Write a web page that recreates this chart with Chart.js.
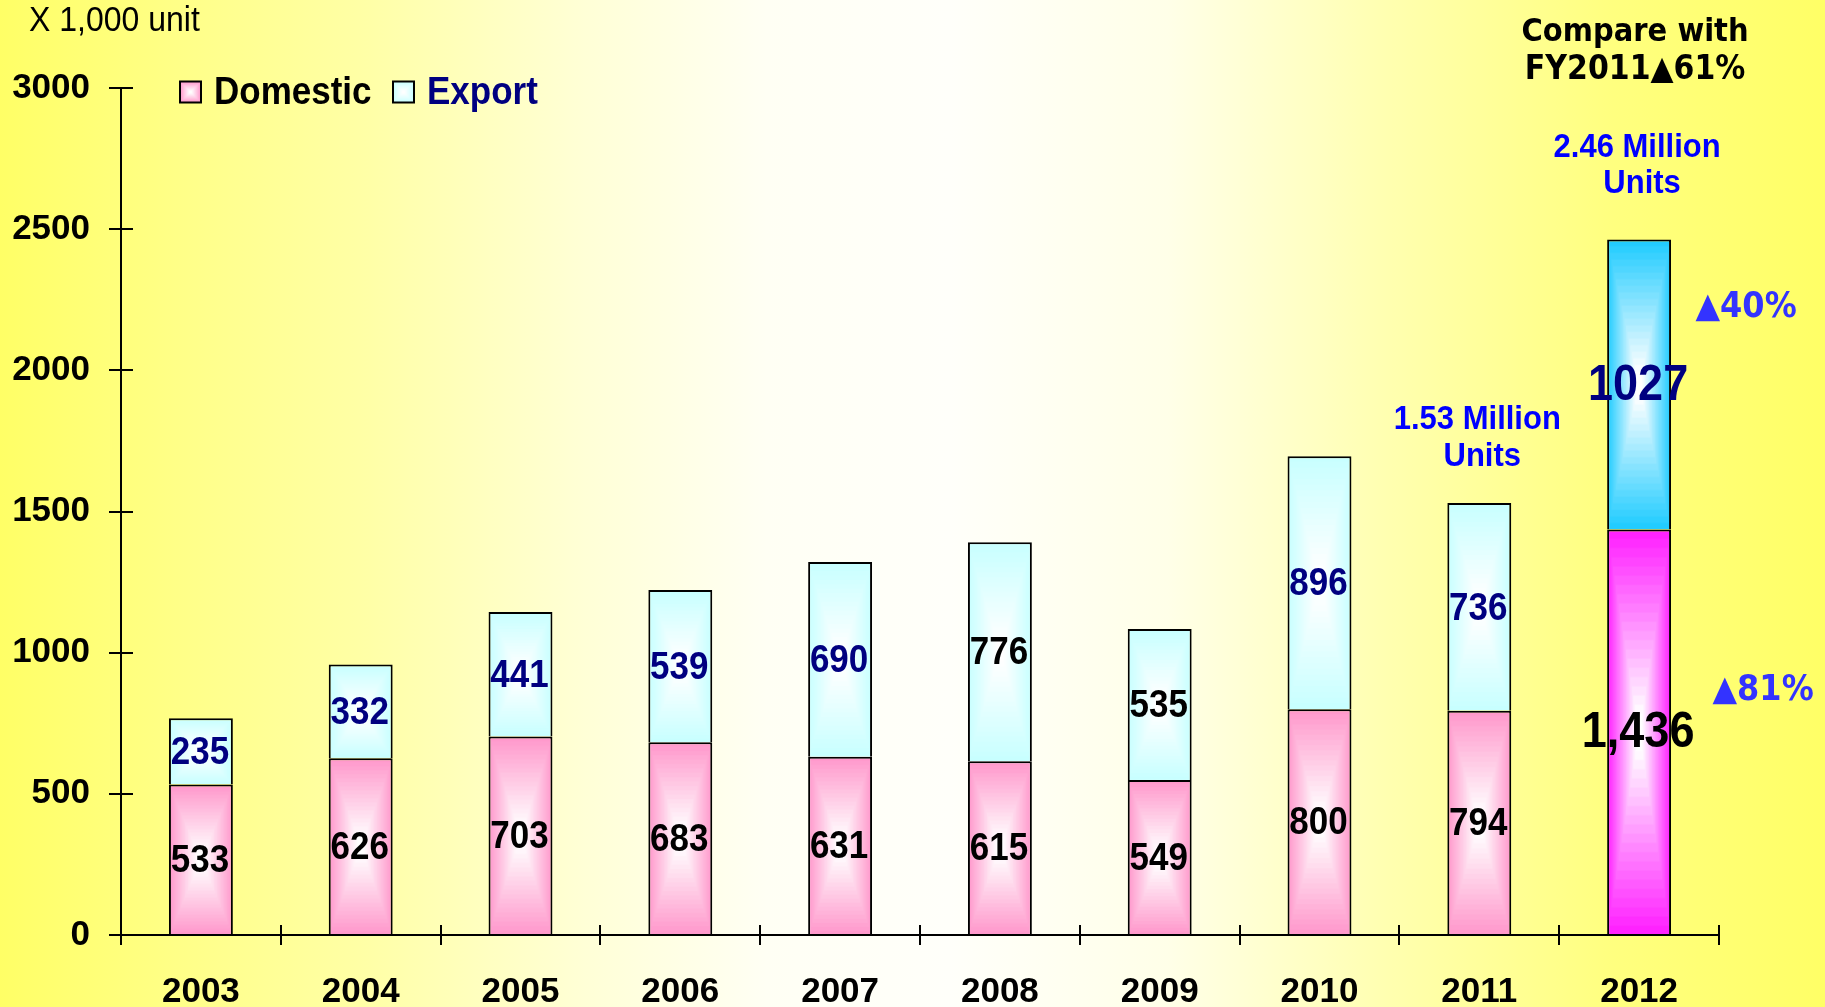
<!DOCTYPE html>
<html>
<head>
<meta charset="utf-8">
<script src="https://cdn.jsdelivr.net/npm/chart.js@4.4.1/dist/chart.umd.min.js"></script>
<style>
html,body{margin:0;padding:0;overflow:hidden;background:#ffffe0}
canvas{display:block}
</style>
</head>
<body>
<canvas id="c" width="1825" height="1007"></canvas>
<script>
// ---------- data ----------
const years = ['2003','2004','2005','2006','2007','2008','2009','2010','2011','2012'];
const seriesNames = ['Domestic', 'Export'];
const domestic = [533, 626, 703, 683, 631, 615, 549, 800, 794, 1436];
const exportUnits = [235, 332, 441, 539, 690, 776, 535, 896, 736, 1027];
const yTickValues = [0, 500, 1000, 1500, 2000, 2500, 3000];
const unitText = 'X 1,000 unit';
const compareLines = ['Compare with', 'FY2011\u25B261%'];
const totalNotes2012 = ['2.46 Million', 'Units'];
const totalNotes2011 = ['1.53 Million', 'Units'];
const changeNotes = ['\u25B240%', '\u25B281%'];      // export, domestic change vs FY2011
const changeNoteValues = [2221, 864];                // vertical anchor (units) for change notes
const total2011NoteValues = [1824, 1693];
const total2012NoteValues = [2788, 2660];
const compareNoteValues = [3196, 3062];

// ---------- styles ----------
const FONT = "'Liberation Sans', Arial, sans-serif";
const FONT_WIDE = "'DejaVu Sans', Verdana, sans-serif";
const EDGE = { domestic: '#ff99cc', exp: '#c8ffff', domesticHi: '#ff22ff', expHi: '#22ccff' };
const NAVY = '#000080';
const exportLabelColors = [NAVY, NAVY, NAVY, NAVY, NAVY, '#000000', '#000000', NAVY, NAVY, NAVY];
const BAR_FRACTION = 0.4;
const STRETCH = 1.1;

function hexToRgb(h){ h = h.replace('#',''); return [parseInt(h.substr(0,2),16), parseInt(h.substr(2,2),16), parseInt(h.substr(4,2),16)]; }
function mix(a, b, t){ const A = hexToRgb(a), B = hexToRgb(b); return 'rgb(' + A.map((v,k)=>Math.round(v + (B[k]-v)*t)).join(',') + ')'; }

function rectGradientCanvas(w, h, edge, center){
  const cv = document.createElement('canvas');
  cv.width = Math.max(1, Math.ceil(w)); cv.height = Math.max(1, Math.ceil(h));
  const g = cv.getContext('2d');
  const steps = 22;
  for (let s = 0; s < steps; s++){
    const t = s / steps;
    g.fillStyle = mix(edge, center, Math.min(1, t * 1.12));
    const ix = t * w / 2, iy = t * h / 2;
    g.fillRect(ix, iy, w - 2*ix, h - 2*iy);
  }
  return cv;
}

function tallText(ctx, text, x, y){
  ctx.save(); ctx.translate(x, y); ctx.scale(1, STRETCH); ctx.fillText(text, 0, 0); ctx.restore();
}

function barFill(normalEdge, highEdge){
  return function(c){
    const chart = c.chart, a = chart.chartArea;
    const i = c.dataIndex;
    const edge = (i === years.length - 1) ? highEdge : normalEdge;
    if (!a || c.type !== 'data') return edge;
    const xs = chart.scales.x, ys = chart.scales.y;
    const w = (a.right - a.left) / years.length * BAR_FRACTION;
    const cx = xs.getPixelForValue(i);
    let lo = 0;
    for (let d = 0; d < c.datasetIndex; d++) lo += chart.data.datasets[d].data[i];
    const hi = lo + chart.data.datasets[c.datasetIndex].data[i];
    const top = ys.getPixelForValue(hi), base = ys.getPixelForValue(lo);
    const left = cx - w/2;
    const cv = rectGradientCanvas(w, base - top, edge, '#ffffff');
    const pat = chart.ctx.createPattern(cv, 'no-repeat');
    pat.setTransform(new DOMMatrix([1,0,0,1,left,top]));
    return pat;
  };
}

// ---------- plugins ----------
const backgroundPlugin = {
  id: 'bg',
  beforeDraw(chart){
    const {ctx, width, height} = chart;
    const g = ctx.createLinearGradient(0, 0, width, 0);
    g.addColorStop(0.00, '#ffff66');
    g.addColorStop(0.10, '#ffff88');
    g.addColorStop(0.20, '#ffffa6');
    g.addColorStop(0.32, '#ffffd6');
    g.addColorStop(0.42, '#fffff4');
    g.addColorStop(0.52, '#fffffa');
    g.addColorStop(0.64, '#ffffe8');
    g.addColorStop(0.76, '#ffffb0');
    g.addColorStop(0.88, '#ffff80');
    g.addColorStop(1.00, '#ffff66');
    ctx.save(); ctx.fillStyle = g; ctx.fillRect(0, 0, width, height); ctx.restore();
  }
};

const crossTicksPlugin = {
  id: 'crossTicks',
  beforeDatasetsDraw(chart){
    const {ctx, chartArea: a, scales: {x, y}} = chart;
    ctx.save(); ctx.strokeStyle = '#000'; ctx.lineWidth = 2;
    y.ticks.forEach((t, i) => {
      const py = Math.round(y.getPixelForTick(i));
      ctx.beginPath(); ctx.moveTo(a.left, py); ctx.lineTo(a.left + 12, py); ctx.stroke();
    });
    const n = x.ticks.length;
    for (let i = 0; i <= n; i++){
      const px = Math.round(a.left + (a.right - a.left) * i / n);
      ctx.beginPath(); ctx.moveTo(px, a.bottom); ctx.lineTo(px, a.bottom - 10); ctx.stroke();
    }
    ctx.restore();
  }
};

const valueLabelsPlugin = {
  id: 'valueLabels',
  afterDatasetsDraw(chart){
    const ctx = chart.ctx;
    ctx.save(); ctx.textAlign = 'center'; ctx.textBaseline = 'middle';
    chart.data.datasets.forEach((ds, di) => {
      const meta = chart.getDatasetMeta(di);
      meta.data.forEach((el, i) => {
        const big = i === years.length - 1;
        ctx.font = 'bold ' + (big ? 45 : 35) + 'px ' + FONT;
        ctx.fillStyle = di === 0 ? '#000000' : exportLabelColors[i];
        const v = ds.data[i];
        const txt = (di === 0 && v >= 1000) ? v.toLocaleString('en-US') : String(v);
        tallText(ctx, txt, el.x - 1, (el.y + el.base) / 2 + 2);
      });
    });
    ctx.restore();
  }
};

const legendPlugin = {
  id: 'customLegend',
  afterDraw(chart){
    const ctx = chart.ctx;
    const items = [
      {text: seriesNames[0], edge: EDGE.domestic, color: '#000000', x: 180},
      {text: seriesNames[1], edge: EDGE.exp, color: NAVY, x: 393}
    ];
    const cy = 92, s = 21;
    ctx.save();
    items.forEach(it => {
      const cv = rectGradientCanvas(s, s, it.edge, '#ffffff');
      ctx.drawImage(cv, it.x, cy - s/2);
      ctx.strokeStyle = '#000'; ctx.lineWidth = 2;
      ctx.strokeRect(it.x, cy - s/2, s, s);
      ctx.font = 'bold 35px ' + FONT;
      ctx.fillStyle = it.color; ctx.textAlign = 'left'; ctx.textBaseline = 'middle';
      tallText(ctx, it.text, it.x + s + 13, cy + 1);
    });
    ctx.restore();
  }
};

const notesPlugin = {
  id: 'notes',
  afterDraw(chart){
    const {ctx, scales: {x, y}} = chart;
    const last = years.length - 1;
    const cx12 = x.getPixelForValue(last), cx11 = x.getPixelForValue(last - 1);
    ctx.save();
    ctx.textBaseline = 'middle';
    // unit
    ctx.font = '32px ' + FONT; ctx.fillStyle = '#000'; ctx.textAlign = 'left';
    tallText(ctx, unitText, 29, 21);
    // compare
    ctx.textAlign = 'center';
    ctx.font = 'bold 29px ' + FONT_WIDE; ctx.fillStyle = '#000';
    tallText(ctx, compareLines[0], cx12 - 4, y.getPixelForValue(compareNoteValues[0]));
    ctx.font = 'bold 30px ' + FONT_WIDE;
    tallText(ctx, compareLines[1], cx12 - 4, y.getPixelForValue(compareNoteValues[1]));
    // totals
    ctx.font = 'bold 31px ' + FONT; ctx.fillStyle = '#0000ff';
    totalNotes2012.forEach((t, k) => tallText(ctx, t, cx12 + (k ? 3 : -2), y.getPixelForValue(total2012NoteValues[k])));
    totalNotes2011.forEach((t, k) => tallText(ctx, t, cx11 + (k ? 3 : -2), y.getPixelForValue(total2011NoteValues[k])));
    // changes
    ctx.font = 'bold 32px ' + FONT_WIDE; ctx.fillStyle = '#3333ff';
    tallText(ctx, changeNotes[0], cx12 + 107, y.getPixelForValue(changeNoteValues[0]));
    tallText(ctx, changeNotes[1], cx12 + 124, y.getPixelForValue(changeNoteValues[1]));
    ctx.restore();
  }
};

// ---------- chart ----------
new Chart(document.getElementById('c'), {
  type: 'bar',
  data: {
    labels: years,
    datasets: [
      { label: seriesNames[0], data: domestic, backgroundColor: barFill(EDGE.domestic, EDGE.domesticHi),
        borderColor: '#000', borderWidth: 2, borderSkipped: 'start' },
      { label: seriesNames[1], data: exportUnits, backgroundColor: barFill(EDGE.exp, EDGE.expHi),
        borderColor: '#000', borderWidth: 2, borderSkipped: 'start' }
    ]
  },
  options: {
    responsive: false,
    animation: false,
    devicePixelRatio: 1,
    layout: { padding: { top: 88, right: 106, bottom: 0, left: 0 } },
    datasets: { bar: { categoryPercentage: 1, barPercentage: BAR_FRACTION } },
    plugins: { legend: { display: false }, tooltip: { enabled: false } },
    scales: {
      x: {
        stacked: true,
        offset: true,
        grid: { offset: true, drawOnChartArea: false, drawTicks: true, tickLength: 10, color: '#000', lineWidth: 2 },
        border: { display: true, color: '#000', width: 2 },
        ticks: { color: '#000', font: { family: FONT, size: 35, weight: 'bold' }, padding: 26, maxRotation: 0 },
        afterFit(s){ s.height = 72; }
      },
      y: {
        stacked: true,
        min: 0, max: 3000,
        afterBuildTicks(s){ s.ticks = yTickValues.map(v => ({ value: v })); },
        grid: { drawOnChartArea: false, drawTicks: true, tickLength: 12, color: '#000', lineWidth: 2 },
        border: { display: true, color: '#000', width: 2 },
        ticks: { color: '#000', font: { family: FONT, size: 35, weight: 'bold' }, padding: 19, callback: v => String(v) },
        afterFit(s){ s.width = 121; }
      }
    }
  },
  plugins: [backgroundPlugin, crossTicksPlugin, valueLabelsPlugin, legendPlugin, notesPlugin]
});
</script>
</body>
</html>
